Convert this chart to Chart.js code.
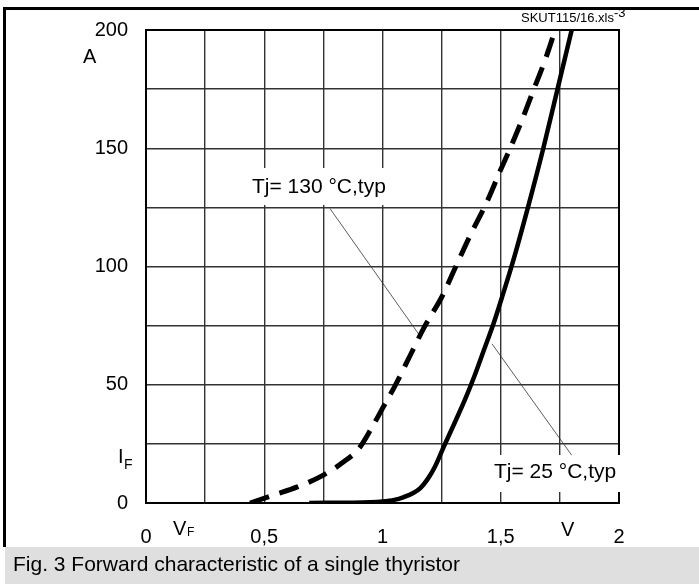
<!DOCTYPE html>
<html>
<head>
<meta charset="utf-8">
<script src="https://cdn.jsdelivr.net/npm/chart.js@4/dist/chart.umd.min.js"></script>
<style>
  html, body { margin: 0; padding: 0; background: #fff; }
  #wrap { position: relative; width: 699px; height: 584px; }
</style>
</head>
<body>
<div id="wrap"><canvas id="chart_fwd" width="699" height="584"></canvas></div>
<script>
// Tj = 130 C (dashed)
const vHot = [0.44, 0.54, 0.64, 0.75, 0.83, 0.9, 0.95, 1.0, 1.05, 1.12, 1.18, 1.25, 1.31, 1.37, 1.44, 1.5, 1.54, 1.59, 1.64, 1.69, 1.73];
const iHot = [0, 3.4, 6.8, 11.8, 17, 23, 31, 40, 49, 63, 75, 87, 100, 113, 127, 141, 150, 162, 175, 188, 200];

// Tj = 25 C (solid)
const vCold = [0.69, 0.95, 1.0, 1.05, 1.09, 1.13, 1.16, 1.19, 1.22, 1.26, 1.31, 1.35, 1.39, 1.43, 1.47, 1.51, 1.55, 1.615, 1.68, 1.74, 1.8];
const iCold = [0, 0.3, 0.6, 1.3, 2.5, 4.2, 6.3, 10, 15, 24, 35, 44, 54, 65, 76, 88.5, 101.5, 125, 150, 175, 200];

const xTickLabels = {0: '0', 0.5: '0,5', 1: '1', 1.5: '1,5', 2: '2'};
const yTickLabels = {0: '0', 50: '50', 100: '100', 150: '150', 200: '200'};

// leader lines in data units: [v1, i1, v2, i2]
const leaderHot = [0.778, 124.5, 1.158, 70.7];
const leaderCold = [1.80, 20.2, 1.463, 67.3];

const FONT = '"Liberation Sans", Arial, sans-serif';

function toPoints(xs, ys) {
    return xs.map((x, i) => ({x: x, y: ys[i]}));
}

const decor = {
    id: 'decor',
    beforeDatasetsDraw(chart) {
        const ctx = chart.ctx;
        const a = chart.chartArea;
        const xs = chart.scales.x, ys = chart.scales.y;
        ctx.save();
        // plot frame
        ctx.strokeStyle = '#000';
        ctx.lineWidth = 2;
        ctx.strokeRect(a.left, a.top, a.right - a.left, a.bottom - a.top);

        // white label boxes
        ctx.fillStyle = '#fff';
        ctx.fillRect(243, 168, 147, 37);
        ctx.fillRect(489, 455, 136, 37);

        // leader lines
        ctx.strokeStyle = '#333';
        ctx.lineWidth = 0.8;
        [leaderHot, leaderCold].forEach(l => {
            ctx.beginPath();
            ctx.moveTo(xs.getPixelForValue(l[0]), ys.getPixelForValue(l[1]));
            ctx.lineTo(xs.getPixelForValue(l[2]), ys.getPixelForValue(l[3]));
            ctx.stroke();
        });

        ctx.fillStyle = '#000';
        ctx.textBaseline = 'middle';
        ctx.textAlign = 'left';
        ctx.font = '21px ' + FONT;
        ctx.fillText('Tj= 130 °C,typ', 252, 187);
        ctx.fillText('Tj= 25 °C,typ', 494, 472);

        // axis unit labels
        ctx.font = '20px ' + FONT;
        ctx.fillText('A', 83, 57);
        ctx.fillText('I', 118, 457);
        ctx.fillText('V', 173, 529);
        ctx.fillText('V', 561, 530);
        ctx.font = '14px ' + FONT;
        ctx.fillText('F', 124, 465);
        ctx.font = '12px ' + FONT;
        ctx.fillText('F', 187, 533);

        // file tag
        ctx.font = '13px ' + FONT;
        ctx.textAlign = 'right';
        ctx.fillText('SKUT115/16.xls', 614, 18);
        ctx.textAlign = 'left';
        ctx.fillText('-3', 614, 13);
        ctx.restore();
    },
    afterDraw(chart) {
        const ctx = chart.ctx;
        ctx.save();
        // outer frame
        ctx.fillStyle = '#000';
        ctx.fillRect(3, 7, 696, 3);
        ctx.fillRect(3, 7, 3, 540);
        // caption
        ctx.fillStyle = '#dfdfdf';
        ctx.fillRect(5, 547, 694, 37);
        ctx.fillStyle = '#000';
        ctx.font = '21px ' + FONT;
        ctx.textBaseline = 'middle';
        ctx.fillText('Fig. 3 Forward characteristic of a single thyristor', 13, 565);
        ctx.restore();
    }
};

const data = {
    datasets: [{
        label: 'Tj= 130°C,typ',
        data: toPoints(vHot, iHot),
        borderColor: '#000',
        borderWidth: 5,
        borderDash: [20, 11],
        cubicInterpolationMode: 'monotone',
        showLine: true,
        pointRadius: 0
    }, {
        label: 'Tj= 25°C,typ',
        data: toPoints(vCold, iCold),
        borderColor: '#000',
        borderWidth: 4.5,
        cubicInterpolationMode: 'monotone',
        showLine: true,
        pointRadius: 0
    }]
};

const config = {
    type: 'scatter',
    data: data,
    options: {
        responsive: false,
        animation: false,
        layout: {
            padding: {left: 0, top: 28, right: 80, bottom: 0}
        },
        scales: {
            x: {
                type: 'linear',
                min: 0,
                max: 2,
                afterFit: s => { s.height = 81; },
                grid: {color: '#333', lineWidth: 1.4, drawTicks: false},
                border: {color: '#000', width: 2},
                ticks: {
                    stepSize: 0.25,
                    autoSkip: false,
                    maxRotation: 0,
                    padding: 22,
                    color: '#000',
                    font: {family: FONT, size: 20},
                    callback: v => xTickLabels[v] !== undefined ? xTickLabels[v] : ''
                }
            },
            y: {
                min: 0,
                max: 200,
                afterFit: s => { s.width = 146; },
                grid: {color: '#333', lineWidth: 1.4, drawTicks: false},
                border: {color: '#000', width: 2},
                ticks: {
                    stepSize: 25,
                    autoSkip: false,
                    padding: 18,
                    color: '#000',
                    font: {family: FONT, size: 20},
                    callback: v => yTickLabels[v] !== undefined ? yTickLabels[v] : ''
                }
            }
        },
        plugins: {
            legend: {display: false},
            tooltip: {enabled: false}
        }
    },
    plugins: [decor]
};

const fwdChart = new Chart(document.getElementById('chart_fwd'), config);
</script>
</body>
</html>
